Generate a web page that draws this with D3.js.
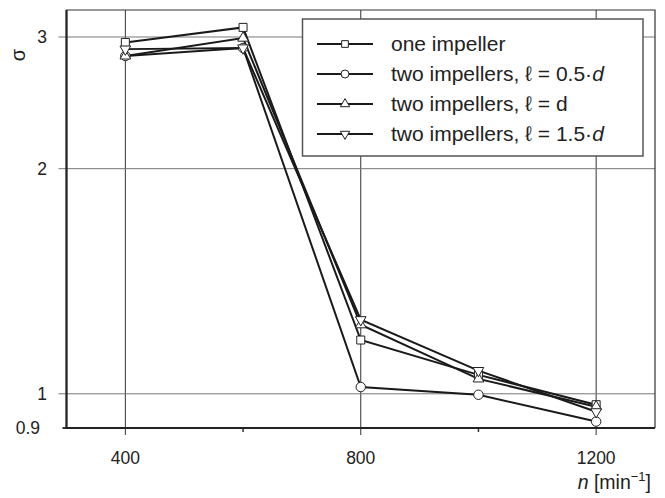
<!DOCTYPE html>
<html><head><meta charset="utf-8">
<script src="https://cdn.jsdelivr.net/npm/d3@7"></script>
<style>
body{margin:0;background:#fff;}
text{font-family:"Liberation Sans",Arial,sans-serif;fill:#222;}
</style></head>
<body><svg id="c" width="665" height="498"></svg>
<script>
const nValues = [400, 600, 800, 1000, 1200];
const oneImpeller = [2.95, 3.09, 1.18, 1.06, 0.967];
const twoHalfD = [2.83, 2.90, 1.021, 0.997, 0.918];
const twoD = [2.83, 2.99, 1.237, 1.047, 0.961];
const twoOneHalfD = [2.89, 2.90, 1.256, 1.074, 0.946];
const seriesNames = ["one impeller", "two impellers, ℓ = 0.5·d", "two impellers, ℓ = d", "two impellers, ℓ = 1.5·d"];
const xMajorTicks = [400, 800, 1200];
const xMinorTicks = [600, 1000];
const yTicks = [1, 2, 3];

const svg = d3.select("#c");
const L = 66.5, R = 655, T = 10, B = 428;
const x = d3.scaleLinear().domain([300, 1300]).range([L, R]);
const y = d3.scaleLog().domain([0.9, 3.26]).range([B, T]);

// gridlines
svg.append("g").selectAll("line").data(xMajorTicks).join("line")
  .attr("x1", d => x(d)).attr("x2", d => x(d)).attr("y1", T).attr("y2", B + 7)
  .attr("stroke", "#333").attr("stroke-width", 1);
svg.append("g").selectAll("line").data(xMinorTicks).join("line")
  .attr("x1", d => x(d)).attr("x2", d => x(d)).attr("y1", B).attr("y2", B + 4)
  .attr("stroke", "#333").attr("stroke-width", 1.5);
svg.append("g").selectAll("line").data(yTicks).join("line")
  .attr("x1", L - 8).attr("x2", R).attr("y1", d => y(d)).attr("y2", d => y(d))
  .attr("stroke", "#777").attr("stroke-width", 1);
svg.append("line").attr("x1", L - 4).attr("x2", L).attr("y1", y(0.9)).attr("y2", y(0.9))
  .attr("stroke", "#333").attr("stroke-width", 2);

// frame
svg.append("path").attr("d", `M${L},${B}V${T}H${R}V${B}`).attr("fill", "none").attr("stroke", "#333").attr("stroke-width", 1.2);
svg.append("path").attr("d", `M${L},${T}V${B}H${R}`).attr("fill", "none").attr("stroke", "#222").attr("stroke-width", 2.2);

// tick labels
svg.append("g").selectAll("text").data(xMajorTicks).join("text")
  .attr("x", d => x(d)).attr("y", 464).attr("text-anchor", "middle")
  .attr("font-size", 17.5).text(d => d);
svg.append("g").selectAll("text").data(yTicks).join("text")
  .attr("x", 47).attr("y", d => y(d) + 6).attr("text-anchor", "end")
  .attr("font-size", 17.5).text(d => d);
svg.append("text").attr("x", 40).attr("y", y(0.9) + 6).attr("text-anchor", "end")
  .attr("font-size", 17.5).text("0.9");

// axis titles
svg.append("text").attr("transform", "translate(25,55) rotate(-90)").attr("text-anchor", "middle")
  .attr("font-size", 20).text("σ");
const xt = svg.append("text").attr("x", 651).attr("y", 489).attr("text-anchor", "end").attr("font-size", 19.5);
xt.append("tspan").attr("font-style", "italic").text("n");
xt.append("tspan").text(" [min");
xt.append("tspan").attr("dy", -8).attr("font-size", 13).text("−1");
xt.append("tspan").attr("dy", 8).text("]");

// markers
const sym = [
  d3.symbol().type(d3.symbolSquare).size(64),
  d3.symbol().type(d3.symbolCircle).size(70),
  d3.symbol().type(d3.symbolTriangle).size(50),
  d3.symbol().type(d3.symbolTriangle).size(50)
];
const symLegend = [
  d3.symbol().type(d3.symbolSquare).size(45),
  d3.symbol().type(d3.symbolCircle).size(50),
  d3.symbol().type(d3.symbolTriangle).size(38),
  d3.symbol().type(d3.symbolTriangle).size(38)
];
const rot = [0, 0, 0, 180];
const allSeries = [oneImpeller, twoHalfD, twoD, twoOneHalfD];
const line = d3.line().x((d, i) => x(nValues[i])).y(d => y(d));

allSeries.forEach((s, k) => {
  svg.append("path").attr("d", line(s)).attr("fill", "none").attr("stroke", "#1a1a1a").attr("stroke-width", 2);
});
allSeries.forEach((s, k) => {
  svg.append("g").selectAll("path").data(s).join("path")
    .attr("d", sym[k]())
    .attr("transform", (d, i) => `translate(${x(nValues[i])},${y(d)}) rotate(${rot[k]})`)
    .attr("fill", "#fff").attr("stroke", "#222").attr("stroke-width", 1);
});

// legend
const lg = svg.append("g");
lg.append("rect").attr("x", 302.5).attr("y", 19).attr("width", 340.5).attr("height", 137)
  .attr("fill", "#fff").attr("stroke", "#555").attr("stroke-width", 1.5);
seriesNames.forEach((name, k) => {
  const ry = 44 + k * 30;
  lg.append("line").attr("x1", 317).attr("x2", 373).attr("y1", ry).attr("y2", ry)
    .attr("stroke", "#1a1a1a").attr("stroke-width", 2);
  lg.append("path").attr("d", symLegend[k]()).attr("transform", `translate(345,${ry}) rotate(${rot[k]})`)
    .attr("fill", "#fff").attr("stroke", "#222").attr("stroke-width", 1);
  const t = lg.append("text").attr("x", 391).attr("y", ry + 7).attr("font-size", 21);
  const m = name.match(/^(.*?)(\d?\.?\d?·)d$/);
  if (m) {
    t.append("tspan").text(m[1] + m[2]);
    t.append("tspan").attr("font-style", "italic").text("d");
  } else {
    t.text(name);
  }
});
</script></body></html>
